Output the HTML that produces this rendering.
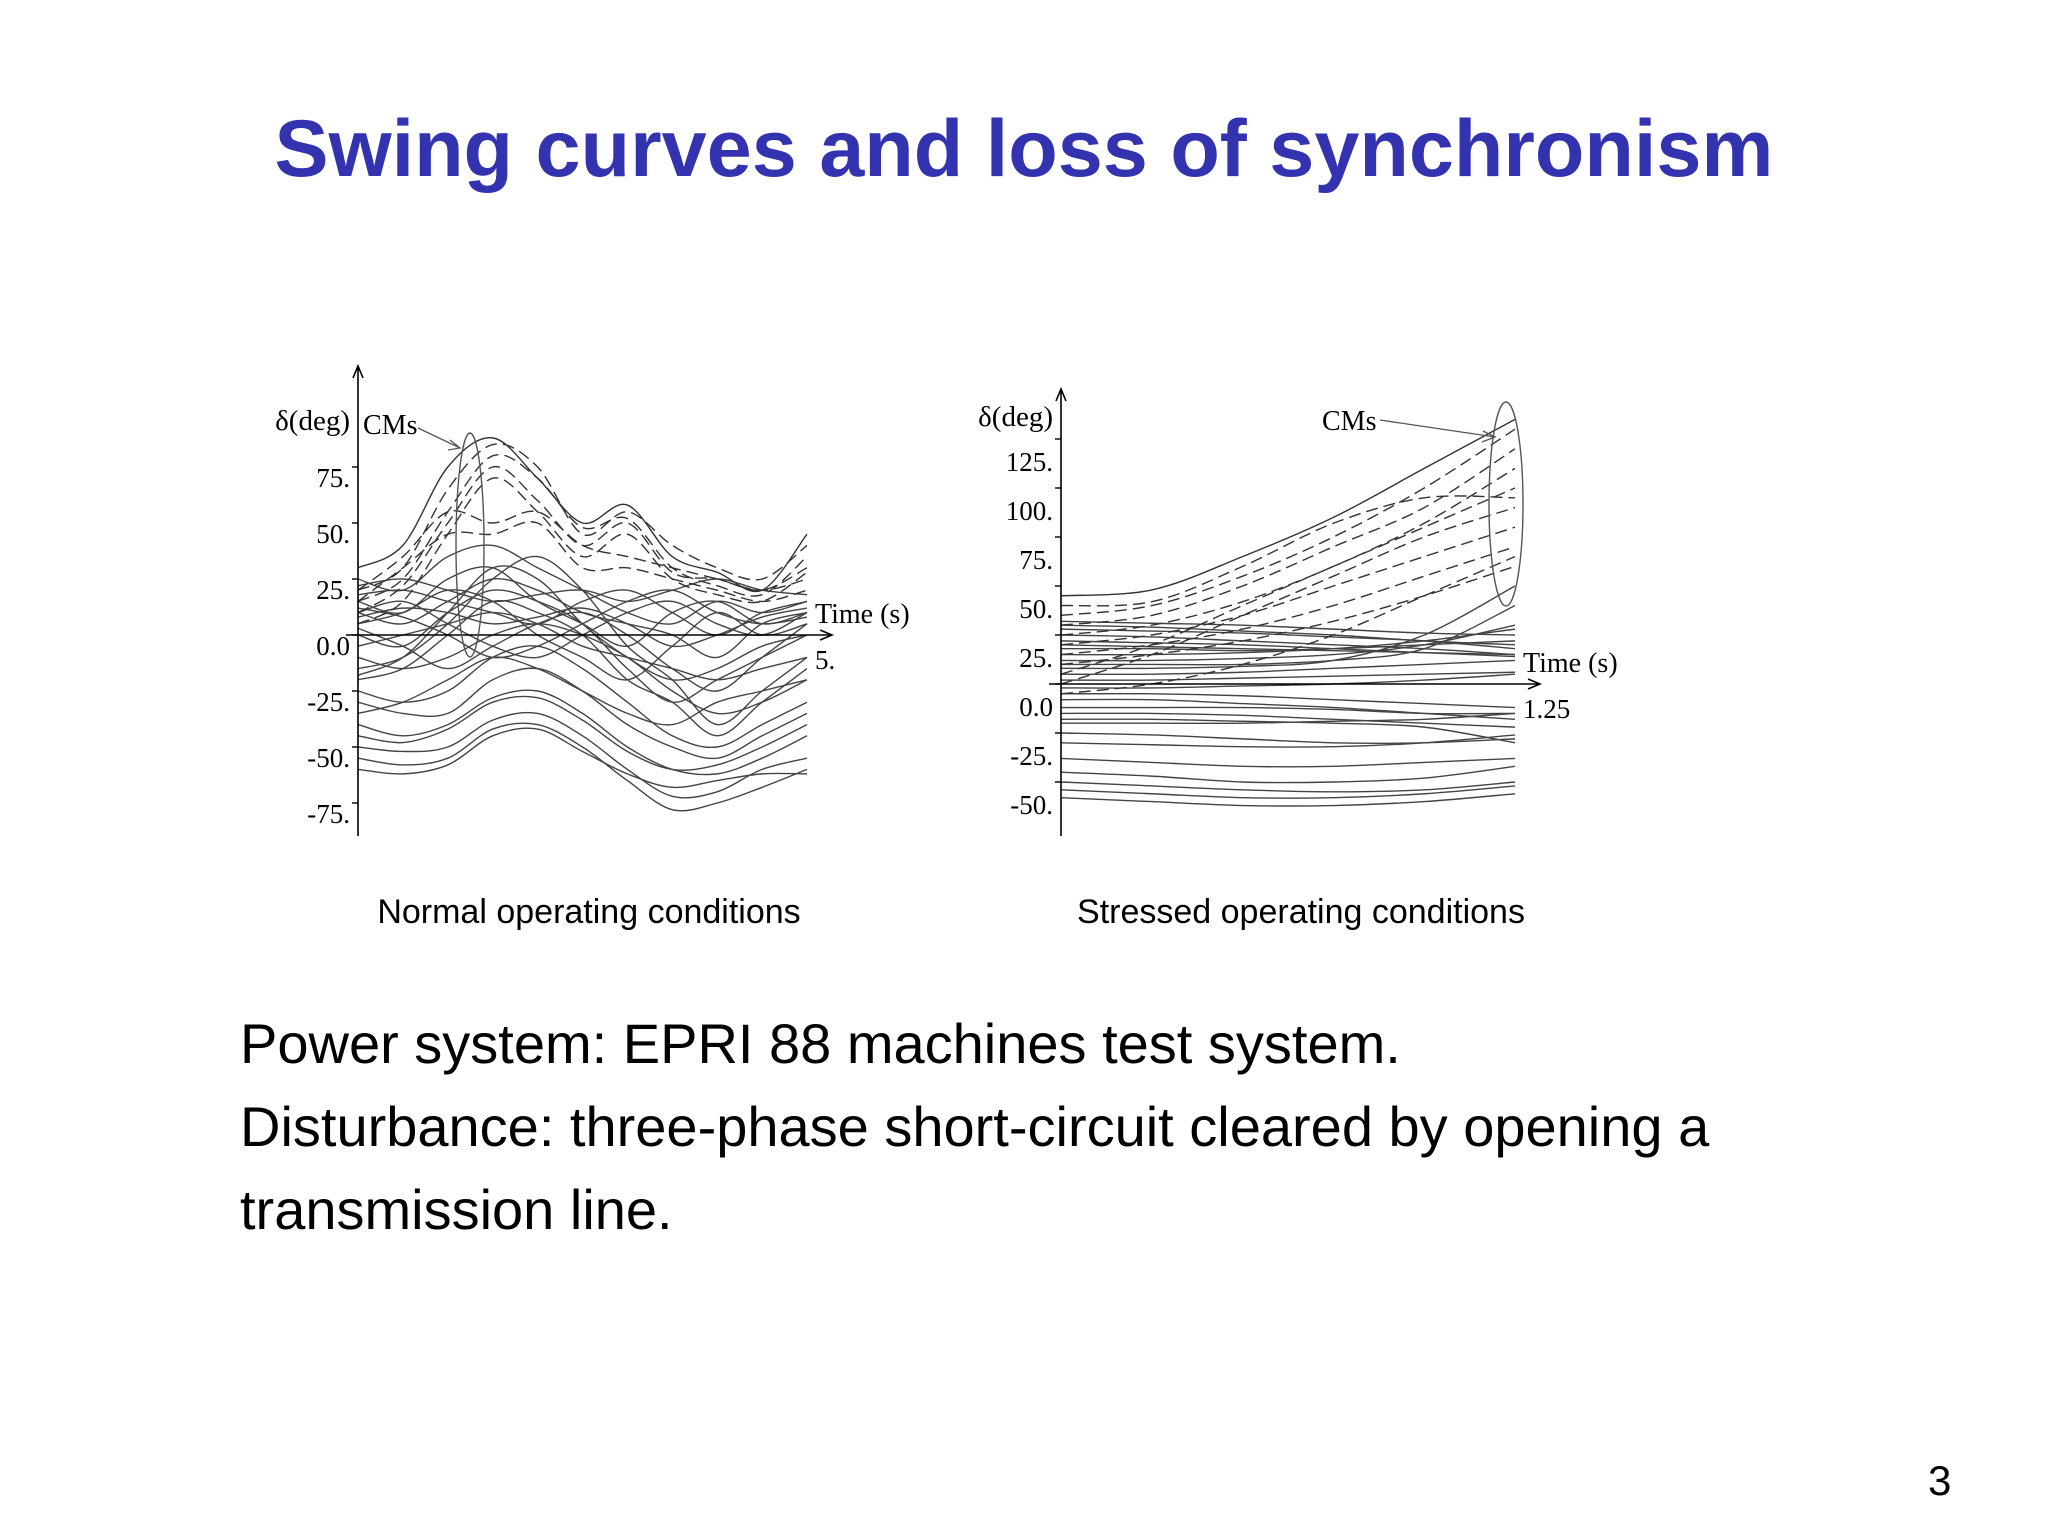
<!DOCTYPE html>
<html><head><meta charset="utf-8">
<style>
body{margin:0;width:2048px;height:1536px;background:#fff;overflow:hidden;position:relative;font-family:"Liberation Sans",sans-serif}
.t{position:absolute;white-space:nowrap}
</style></head>
<body>
<div class="t" style="left:0;width:2048px;text-align:center;top:101px;font-size:81px;font-weight:bold;color:#3333b0;line-height:96px">Swing curves and loss of synchronism</div>
<svg id="chart" width="2048" height="900" style="position:absolute;left:0;top:0" font-family="Liberation Serif, serif"></svg>
<div class="t" style="left:589px;top:893px;transform:translateX(-50%);font-size:34px">Normal operating conditions</div>
<div class="t" style="left:1301px;top:893px;transform:translateX(-50%);font-size:34px">Stressed operating conditions</div>
<div class="t" style="left:240px;top:1002px;font-size:56px;line-height:83px;white-space:normal;width:1700px">Power system: EPRI 88 machines test system.<br>Disturbance: three-phase short-circuit cleared by opening a<br>transmission line.</div>
<div class="t" style="left:1928px;top:1457px;font-size:42px">3</div>
<script>
const leftTimes=[0,0.5,1,1.5,2,2.5,3,3.5,4,4.5,5];
const leftCM=[
[30,40,75,88,70,50,58,35,28,20,45],
[20,30,65,85,75,45,55,40,30,25,40],
[15,25,55,80,70,48,52,30,22,18,35],
[10,22,50,75,60,40,50,28,25,20,30],
[5,15,45,70,55,35,45,25,18,15,28],
[20,35,55,50,55,40,35,30,25,20,25],
[15,30,45,45,50,30,30,25,20,15,20]];
const leftOther=[
[25,20,35,40,30,20,10,5,15,10,15],[15,10,25,30,15,5,-5,10,15,5,10],[10,5,15,25,20,10,5,0,-10,5,10],
[5,10,20,15,0,-10,-20,-5,10,0,5],[0,-5,10,20,15,5,-15,-30,-20,-10,0],[-15,-10,5,25,35,20,-5,-20,-40,-25,-10],
[-20,-15,0,15,10,0,-20,-30,-45,-30,-15],[10,15,5,-5,-10,0,10,15,5,0,10],[18,20,15,10,5,15,20,10,0,10,15],
[12,8,0,-10,-5,5,15,20,10,5,8],[-5,0,5,10,5,-5,-10,-15,-20,-15,-10],[-10,-15,-10,0,5,0,-10,-25,-35,-30,-20],
[-25,-30,-25,-10,-5,-15,-30,-45,-50,-40,-30],[-30,-35,-35,-20,-15,-25,-40,-50,-55,-45,-35],[-40,-45,-40,-28,-25,-35,-50,-60,-62,-55,-45],
[-50,-52,-50,-38,-35,-45,-60,-72,-70,-60,-55],[-55,-58,-55,-42,-40,-50,-65,-78,-75,-68,-60],[-60,-62,-58,-45,-42,-52,-62,-68,-65,-62,-62],
[-45,-48,-42,-30,-28,-38,-52,-60,-58,-50,-40],[-35,-30,-20,-10,-15,-25,-35,-40,-30,-25,-20],[22,25,20,15,18,20,15,20,25,20,18],
[8,12,10,5,8,12,5,-5,0,8,12],[3,-5,-15,-5,5,10,0,-15,-25,-10,5],[-18,-10,10,30,25,5,-10,-20,-15,-5,0]];
const leftTicks=[75,50,25,0,-25,-50,-75];
const leftTickLabels=["75.","50.","25.","0.0","-25.","-50.","-75."];
const rightTimes=[0,0.25,0.5,0.75,1,1.25];
const rightCM=[
[45,48,65,85,110,135],[40,42,60,82,95,95],[35,40,55,75,100,130],[30,35,50,70,90,120],[25,30,42,60,82,110],
[5,20,40,60,80,100],[0,15,35,55,75,90],[20,25,35,50,65,80],[15,20,28,40,55,70],[10,15,22,32,45,60],[-5,0,10,25,45,65]];
const rightOther=[
[32,31,30,28,26,25],[30,29,27,25,22,20],[28,27,26,24,22,18],[25,24,22,20,18,15],[22,21,20,18,16,14],[20,19,18,17,16,15],
[18,18,17,18,20,22],[15,15,16,18,22,28],[12,12,13,15,20,30],[10,10,10,12,18,40],[8,8,9,12,25,50],[5,5,6,8,10,12],
[2,2,3,4,5,6],[-2,-2,-1,0,2,5],[-5,-5,-6,-8,-10,-12],[-8,-8,-10,-12,-15,-18],[-12,-12,-12,-13,-15,-15],[-15,-15,-16,-18,-20,-22],
[-18,-18,-19,-20,-22,-30],[-20,-20,-20,-19,-18,-15],[-25,-26,-28,-30,-30,-28],[-30,-31,-32,-32,-30,-26],[-38,-40,-42,-42,-40,-38],
[-45,-47,-50,-50,-48,-42],[-50,-52,-54,-55,-54,-50],[-54,-56,-58,-58,-56,-52],[-58,-60,-62,-62,-60,-56]];
const rightTicks=[125,100,75,50,25,0,-25,-50];
const rightTickLabels=["125.","100.","75.","50.","25.","0.0","-25.","-50."];

const svg=document.getElementById('chart');const NS='http://www.w3.org/2000/svg';
function mk(tag,attrs,parent){const e=document.createElementNS(NS,tag);for(const k in attrs)e.setAttribute(k,attrs[k]);(parent||svg).appendChild(e);return e;}
function smooth(pts){let d='M'+pts[0][0]+','+pts[0][1];for(let i=0;i<pts.length-1;i++){const p0=pts[Math.max(i-1,0)],p1=pts[i],p2=pts[i+1],p3=pts[Math.min(i+2,pts.length-1)];
d+=' C'+(p1[0]+(p2[0]-p0[0])/6)+','+(p1[1]+(p2[1]-p0[1])/6)+' '+(p2[0]-(p3[0]-p1[0])/6)+','+(p2[1]-(p3[1]-p1[1])/6)+' '+p2[0]+','+p2[1];}return d;}
function drawChart(cfg){
 const g=mk('g',{});
 
 
 const X=t=>cfg.x0+(t/cfg.tmax)*(cfg.x1-cfg.x0), Y=v=>cfg.y0-v*cfg.k;
 cfg.other.forEach(s=>{const p=mk('path',{d:smooth(s.map((v,i)=>[X(cfg.times[i]),Y(v)])),fill:'none',stroke:'#444','stroke-width':1.4},g);
  
  });
 cfg.cm.forEach((s,j)=>{const p=mk('path',{d:smooth(s.map((v,i)=>[X(cfg.times[i]),Y(v)])),fill:'none',stroke:'#333','stroke-width':1.4,'stroke-dasharray':j==0?'none':'12,6'},g);
  
  });
 const ya=mk('path',{d:`M${cfg.x0},${cfg.ybot} L${cfg.x0},${cfg.ytop} M${cfg.x0-5},${cfg.ytop+12} L${cfg.x0},${cfg.ytop} L${cfg.x0+5},${cfg.ytop+12}`,stroke:'#000','stroke-width':1.6,fill:'none'},g);
 
 const xa=mk('path',{d:`M${cfg.x0-12},${cfg.y0} L${cfg.x1+25},${cfg.y0} M${cfg.x1+13},${cfg.y0-5} L${cfg.x1+25},${cfg.y0} L${cfg.x1+13},${cfg.y0+5}`,stroke:'#000','stroke-width':1.6,fill:'none'},g);
 
 cfg.ticks.forEach((v,i)=>{mk('line',{x1:cfg.x0-6,x2:cfg.x0,y1:Y(v),y2:Y(v),stroke:'#000','stroke-width':1.4},g);
  const t=mk('text',{x:cfg.x0-8,y:Y(v)+cfg.lo,'text-anchor':'end','font-size':27},g);t.textContent=cfg.labels[i];
  });
 const yl=mk('text',{x:cfg.x0-8,y:cfg.ylab,'text-anchor':'end','font-size':29},g);yl.textContent='δ(deg)';
 
 const xl=mk('text',{x:cfg.x1+8,y:cfg.y0-12,'font-size':28},g);xl.textContent='Time (s)';
 
 const xe=mk('text',{x:cfg.x1+8,y:cfg.y0+34,'font-size':27},g);xe.textContent=cfg.xend;
 
 const el=mk('ellipse',{cx:cfg.ell[0],cy:cfg.ell[1],rx:cfg.ell[2],ry:cfg.ell[3],fill:'none',stroke:'#555','stroke-width':1.4},g);
 
 const cl=mk('text',{x:cfg.cms[0],y:cfg.cms[1],'font-size':28},g);cl.textContent='CMs';
 
 const ar=mk('path',{d:cfg.arrow,stroke:'#555','stroke-width':1.3,fill:'none'},g);
 
}
drawChart({name:'normal-chart',times:leftTimes,cm:leftCM,other:leftOther,ticks:leftTicks,labels:leftTickLabels,tmax:5,
 x0:358,x1:807,y0:635,k:2.24,lo:20,ytop:366,ybot:836,ylab:430,xend:'5.',ell:[470,545,14,112],cms:[363,434],
 arrow:'M418,428 L460,448 M450,440 L460,448 L448,450'});
drawChart({name:'stressed-chart',times:rightTimes,cm:rightCM,other:rightOther,ticks:rightTicks,labels:rightTickLabels,tmax:1.25,
 x0:1061,x1:1515,y0:684,k:1.96,lo:32,ytop:389,ybot:836,ylab:426,xend:'1.25',ell:[1506,504,17,102],cms:[1322,430],
 arrow:'M1380,420 L1495,437 M1483,431 L1495,437 L1482,442'});
</script>
</body></html>
